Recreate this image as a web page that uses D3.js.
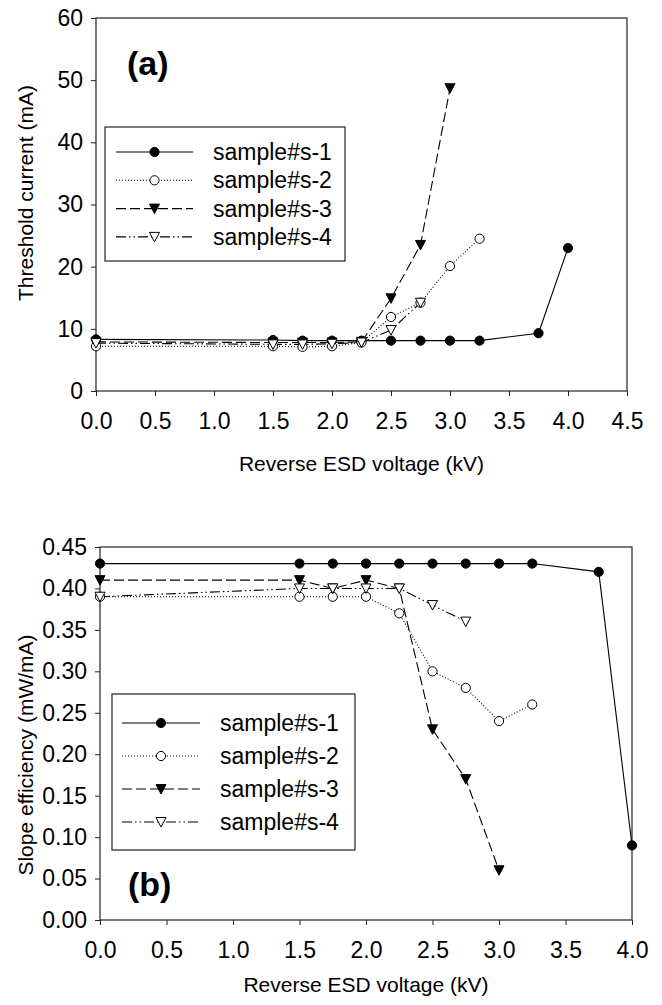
<!DOCTYPE html>
<html>
<head>
<meta charset="utf-8">
<script src="https://cdn.jsdelivr.net/npm/d3@7"></script>
<style>
  body { margin: 0; background: #fff; }
  svg { display: block; font-family: Arial, "Liberation Sans", sans-serif; }
</style>
</head>
<body>
<div id="chart-container"></div>
<script>
// Dữ liệu - panel (a): threshold current
const seriesNames = ["sample#s-1", "sample#s-2", "sample#s-3", "sample#s-4"];
const voltA1 = [0, 1.5, 1.75, 2.0, 2.25, 2.5, 2.75, 3.0, 3.25, 3.75, 4.0];
const voltA2 = [0, 1.5, 1.75, 2.0, 2.25, 2.5, 2.75, 3.0, 3.25];
const voltA3 = [0, 1.5, 1.75, 2.0, 2.25, 2.5, 2.75, 3.0];
const voltA4 = [0, 1.5, 1.75, 2.0, 2.25, 2.5, 2.75];
const thrS1 = [8.3, 8.2, 8.1, 8.1, 8.1, 8.1, 8.1, 8.1, 8.1, 9.3, 23.0];
const thrS2 = [7.2, 7.2, 7.1, 7.2, 7.8, 11.9, 14.2, 20.1, 24.5];
const thrS3 = [7.9, 7.8, 7.8, 7.8, 7.9, 14.9, 23.5, 48.7];
const thrS4 = [7.7, 7.5, 7.5, 7.6, 7.8, 9.8, 14.2];
const xTicksA = [0, 0.5, 1.0, 1.5, 2.0, 2.5, 3.0, 3.5, 4.0, 4.5];
const yTicksA = [0, 10, 20, 30, 40, 50, 60];

// Dữ liệu - panel (b): slope efficiency
const slopeS1 = [0.43, 0.43, 0.43, 0.43, 0.43, 0.43, 0.43, 0.43, 0.43, 0.42, 0.09];
const slopeS2 = [0.39, 0.39, 0.39, 0.39, 0.37, 0.30, 0.28, 0.24, 0.26];
const slopeS3 = [0.41, 0.41, 0.40, 0.41, 0.40, 0.23, 0.17, 0.06];
const slopeS4 = [0.39, 0.40, 0.40, 0.40, 0.40, 0.38, 0.36];
const xTicksB = [0, 0.5, 1.0, 1.5, 2.0, 2.5, 3.0, 3.5, 4.0];
const yTicksB = [0, 0.05, 0.10, 0.15, 0.20, 0.25, 0.30, 0.35, 0.40, 0.45];

const zip = (xs, ys) => xs.map((x, i) => ({ x, y: ys[i] }));

// Kiểu đường và ký hiệu cho từng mẫu
const styles = [
    { dash: null, marker: "circle", fill: "#000" },
    { dash: "1,2", marker: "circle", fill: "#fff" },
    { dash: "10,4", marker: "tri", fill: "#000" },
    { dash: "10,3,1.5,3,1.5,3", marker: "tri", fill: "#fff" }
];

const svg = d3.select("#chart-container")
    .append("svg")
    .attr("width", 662)
    .attr("height", 1005);

function drawMarker(g, x, y, st) {
    if (st.marker === "circle") {
        g.append("circle")
            .attr("cx", x).attr("cy", y).attr("r", 4.6)
            .attr("fill", st.fill).attr("stroke", "#000").attr("stroke-width", 1);
    } else {
        g.append("path")
            .attr("d", `M${x - 5},${y - 4.5}L${x + 5},${y - 4.5}L${x},${y + 5}Z`)
            .attr("fill", st.fill).attr("stroke", "#000").attr("stroke-width", 1);
    }
}

function drawPanel(cfg) {
    const x = d3.scaleLinear().domain(cfg.xDomain).range([cfg.left, cfg.right]);
    const y = d3.scaleLinear().domain(cfg.yDomain).range([cfg.bottom, cfg.top]);
    const g = svg.append("g");

    // Khung
    g.append("rect")
        .attr("x", cfg.left).attr("y", cfg.top)
        .attr("width", cfg.right - cfg.left).attr("height", cfg.bottom - cfg.top)
        .attr("fill", "none").attr("stroke", "#222").attr("stroke-width", 1.2);

    // Trục x
    const ax = g.append("g")
        .attr("transform", `translate(0,${cfg.bottom})`)
        .call(d3.axisBottom(x).tickValues(cfg.xTicks).tickSize(5).tickPadding(17)
            .tickFormat(d3.format(".1f")));
    ax.select(".domain").remove();
    ax.selectAll("line").attr("stroke", "#222");
    ax.selectAll("text").style("font-size", "23px").attr("fill", "#000");

    // Trục y
    const ay = g.append("g")
        .attr("transform", `translate(${cfg.left},0)`)
        .call(d3.axisLeft(y).tickValues(cfg.yTicks).tickSize(5).tickPadding(8)
            .tickFormat(cfg.yFormat));
    ay.select(".domain").remove();
    ay.selectAll("line").attr("stroke", "#222");
    ay.selectAll("text").style("font-size", "23px").attr("fill", "#000");

    // Đường dữ liệu
    const line = d3.line().x(d => x(d.x)).y(d => y(d.y));
    cfg.series.forEach((s, i) => {
        g.append("path")
            .datum(s)
            .attr("d", line)
            .attr("fill", "none")
            .attr("stroke", "#000")
            .attr("stroke-width", 1.1)
            .attr("stroke-dasharray", styles[i].dash);
    });
    cfg.series.forEach((s, i) => {
        s.forEach(d => drawMarker(g, x(d.x), y(d.y), styles[i]));
    });

    // Chú giải
    const lg = cfg.legend;
    g.append("rect")
        .attr("x", lg.x0).attr("y", lg.y0)
        .attr("width", lg.x1 - lg.x0).attr("height", lg.y1 - lg.y0)
        .attr("fill", "#fff").attr("stroke", "#222").attr("stroke-width", 1.2);
    seriesNames.forEach((name, i) => {
        const ry = lg.rowY + i * lg.rowGap;
        g.append("line")
            .attr("x1", lg.lineX0).attr("x2", lg.lineX1)
            .attr("y1", ry).attr("y2", ry)
            .attr("stroke", "#000").attr("stroke-width", 1.1)
            .attr("stroke-dasharray", styles[i].dash);
        drawMarker(g, (lg.lineX0 + lg.lineX1) / 2, ry, styles[i]);
        g.append("text")
            .attr("x", lg.textX).attr("y", ry)
            .attr("dy", "0.35em")
            .style("font-size", "23px")
            .text(name);
    });

    // Nhãn (a)/(b)
    g.append("text")
        .attr("x", cfg.tag.x).attr("y", cfg.tag.y)
        .style("font-size", "34px").style("font-weight", "bold")
        .text(cfg.tag.text);

    // Tiêu đề trục
    g.append("text")
        .attr("x", (cfg.left + cfg.right) / 2).attr("y", cfg.xTitleY)
        .attr("text-anchor", "middle").attr("dy", "0.35em")
        .style("font-size", "21px")
        .text("Reverse ESD voltage (kV)");
    g.append("text")
        .attr("transform", `translate(${cfg.yTitleX},${cfg.yTitleY}) rotate(-90)`)
        .attr("text-anchor", "middle").attr("dy", "0.35em")
        .style("font-size", "21px")
        .text(cfg.yTitle);
}

drawPanel({
    left: 96, right: 627, top: 18, bottom: 391,
    xDomain: [0, 4.5], yDomain: [0, 60],
    xTicks: xTicksA, yTicks: yTicksA, yFormat: d3.format("d"),
    series: [zip(voltA1, thrS1), zip(voltA2, thrS2), zip(voltA3, thrS3), zip(voltA4, thrS4)],
    legend: { x0: 105, x1: 345, y0: 127, y1: 261, rowY: 152, rowGap: 28.3,
              lineX0: 116, lineX1: 193, textX: 213 },
    tag: { text: "(a)", x: 127, y: 75 },
    xTitleY: 464, yTitleX: 26, yTitleY: 193,
    yTitle: "Threshold current (mA)"
});

drawPanel({
    left: 100, right: 632, top: 547, bottom: 920,
    xDomain: [0, 4.0], yDomain: [0, 0.45],
    xTicks: xTicksB, yTicks: yTicksB, yFormat: d3.format(".2f"),
    series: [zip(voltA1, slopeS1), zip(voltA2, slopeS2), zip(voltA3, slopeS3), zip(voltA4, slopeS4)],
    legend: { x0: 112, x1: 355, y0: 694, y1: 850, rowY: 723, rowGap: 33,
              lineX0: 122, lineX1: 200, textX: 220 },
    tag: { text: "(b)", x: 128, y: 896 },
    xTitleY: 985, yTitleX: 26, yTitleY: 755,
    yTitle: "Slope efficiency (mW/mA)"
});
</script>
</body>
</html>
